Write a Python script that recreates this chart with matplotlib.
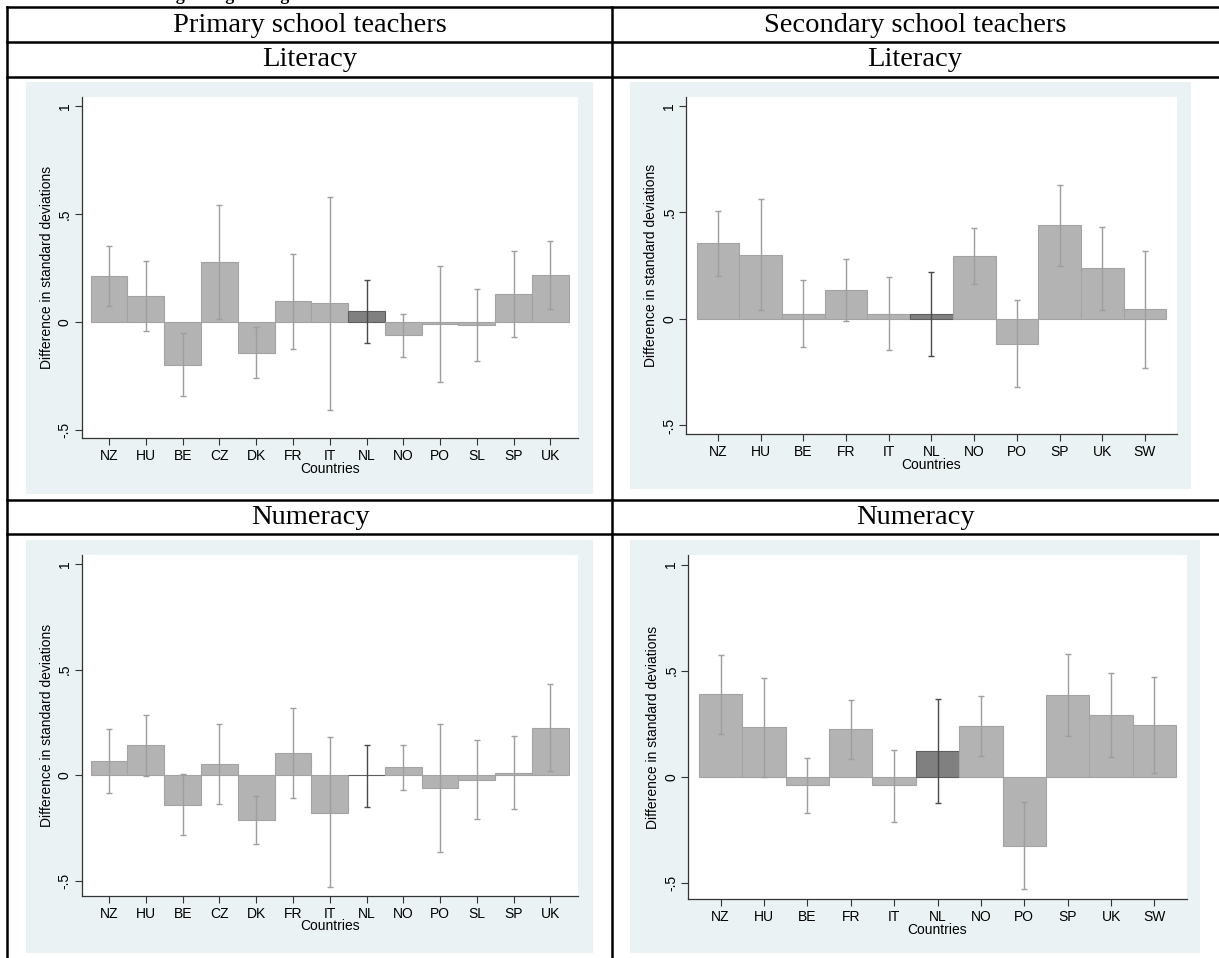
import matplotlib
matplotlib.use("Agg")
import matplotlib.pyplot as plt
from matplotlib.patches import Rectangle
from matplotlib.lines import Line2D

# data (difference in SD, with 95% CI bounds)
primary_countries = ['NZ', 'HU', 'BE', 'CZ', 'DK', 'FR', 'IT', 'NL', 'NO', 'PO', 'SL', 'SP', 'UK']
secondary_countries = ['NZ', 'HU', 'BE', 'FR', 'IT', 'NL', 'NO', 'PO', 'SP', 'UK', 'SW']

prim_lit = [0.214, 0.119, -0.200, 0.279, -0.144, 0.096, 0.085, 0.051, -0.062, -0.009, -0.015, 0.127, 0.215]
prim_lit_hi = [0.353, 0.280, -0.054, 0.539, -0.026, 0.314, 0.579, 0.193, 0.036, 0.259, 0.150, 0.330, 0.373]
prim_lit_lo = [0.071, -0.043, -0.345, 0.012, -0.260, -0.125, -0.407, -0.098, -0.163, -0.279, -0.181, -0.073, 0.059]

sec_lit = [0.355, 0.302, 0.023, 0.138, 0.025, 0.022, 0.297, -0.117, 0.439, 0.238, 0.047]
sec_lit_hi = [0.509, 0.561, 0.181, 0.280, 0.198, 0.222, 0.427, 0.088, 0.628, 0.433, 0.320]
sec_lit_lo = [0.200, 0.041, -0.133, -0.008, -0.147, -0.173, 0.166, -0.319, 0.247, 0.041, -0.228]

prim_num = [0.065, 0.141, -0.140, 0.052, -0.213, 0.105, -0.179, -0.002, 0.037, -0.062, -0.024, 0.008, 0.225]
prim_num_hi = [0.217, 0.286, 0.006, 0.241, -0.098, 0.319, 0.178, 0.143, 0.143, 0.241, 0.165, 0.183, 0.430]
prim_num_lo = [-0.086, -0.005, -0.283, -0.137, -0.327, -0.111, -0.531, -0.151, -0.073, -0.363, -0.208, -0.162, 0.017]

sec_num = [0.388, 0.233, -0.041, 0.225, -0.041, 0.121, 0.241, -0.324, 0.384, 0.291, 0.244]
sec_num_hi = [0.575, 0.467, 0.088, 0.363, 0.127, 0.365, 0.382, -0.119, 0.577, 0.489, 0.472]
sec_num_lo = [0.200, -0.003, -0.170, 0.085, -0.211, -0.123, 0.098, -0.528, 0.190, 0.093, 0.017]

highlight = 'NL'
ytick_vals = [-0.5, 0, 0.5, 1]
ytick_labels = ['-.5', '0', '.5', '1']

W, H = 1219, 958
BG = '#EAF2F3'
BAR = '#B3B3B3'
BAR_EDGE = '#A3A3A3'
ERR = '#9E9E9E'
HL = '#808080'
HL_EDGE = '#5E5E5E'
HL_ERR = '#4A4A4A'

plt.rcParams['font.family'] = ['Liberation Sans', 'DejaVu Sans']

fig = plt.figure(figsize=(W / 100, H / 100), dpi=100)


def px_box(x0, y0, x1, y1):
    # pixel box (top-left origin) -> figure fraction rect
    return [x0 / W, 1 - y1 / H, (x1 - x0) / W, (y1 - y0) / H]


def panel(bg_box, ax_box, countries, vals, hi, lo, ylim):
    fig.patches.append(Rectangle((bg_box[0] / W, 1 - bg_box[3] / H),
                                 (bg_box[2] - bg_box[0]) / W, (bg_box[3] - bg_box[1]) / H,
                                 transform=fig.transFigure, facecolor=BG, edgecolor='none', zorder=-5))
    ax = fig.add_axes(px_box(*ax_box))
    ax.set_zorder(2)
    ax.set_facecolor('white')
    n = len(countries)
    xs = list(range(n))
    fills = [HL if c == highlight else BAR for c in countries]
    edges = [HL_EDGE if c == highlight else BAR_EDGE for c in countries]
    ax.bar(xs, vals, width=1.0, color=fills, edgecolor=edges, linewidth=0.8, zorder=2)
    for i, c in enumerate(countries):
        col = HL_ERR if c == highlight else ERR
        ax.errorbar([xs[i]], [vals[i]], yerr=[[vals[i] - lo[i]], [hi[i] - vals[i]]],
                    fmt='none', ecolor=col, elinewidth=1.0, capsize=2.0, capthick=1.0, zorder=3)
    ax.set_xlim(-0.75, n - 0.25)
    ax.set_ylim(*ylim)
    ax.set_xticks(xs)
    ax.set_xticklabels(countries, fontsize=10)
    ax.set_yticks(ytick_vals)
    ax.set_yticklabels(ytick_labels, fontsize=10, rotation=90, va='center')
    ax.tick_params(axis='both', length=5, width=0.8, color='#333333', pad=3)
    ax.tick_params(axis='y', pad=2)
    ax.set_xlabel('Countries', fontsize=10, labelpad=-1)
    ax.set_ylabel('Difference in standard deviations', fontsize=10, labelpad=3)
    for s in ['top', 'right']:
        ax.spines[s].set_visible(False)
    for s in ['left', 'bottom']:
        ax.spines[s].set_color('#333333')
        ax.spines[s].set_linewidth(0.9)
    return ax


panel((26, 82, 593, 494), (81.5, 96.7, 578, 438), primary_countries,
      prim_lit, prim_lit_hi, prim_lit_lo, (-0.539, 1.043))
panel((630, 82, 1191, 489), (686, 97, 1177, 434), secondary_countries,
      sec_lit, sec_lit_hi, sec_lit_lo, (-0.540, 1.042))
panel((26, 540, 593, 953), (81.5, 555, 578, 895.7), primary_countries,
      prim_num, prim_num_hi, prim_num_lo, (-0.572, 1.043))
panel((630, 540, 1200, 953), (688, 555, 1187, 899), secondary_countries,
      sec_num, sec_num_hi, sec_num_lo, (-0.576, 1.045))

# table grid around the panels
lw = 1.8
for y in [7, 42, 77, 500, 534]:
    fig.add_artist(Line2D([7 / W, 1], [1 - y / H, 1 - y / H], transform=fig.transFigure,
                          color='black', linewidth=lw))
for x in [7, 612]:
    fig.add_artist(Line2D([x / W, x / W], [1 - 7 / H, 0], transform=fig.transFigure,
                          color='black', linewidth=lw))

serif = ['Liberation Serif', 'DejaVu Serif']
headers = [('Primary school teachers', 310, 25), ('Secondary school teachers', 915, 25),
           ('Literacy', 310, 60), ('Literacy', 915, 60),
           ('Numeracy', 310, 518), ('Numeracy', 915, 518)]
for txt, x, y in headers:
    fig.text(x / W, 1 - y / H, txt, family=serif, fontsize=20.5, ha='center', va='center')

# caption sitting above the table, cut off by the image top as in the source
fig.text(10 / W, 1 - 0.5 / H, 'Differences controlling for age and gender', family=serif,
         fontsize=13, fontweight='bold', ha='left', va='baseline')

fig.savefig('out.png', dpi=100)
